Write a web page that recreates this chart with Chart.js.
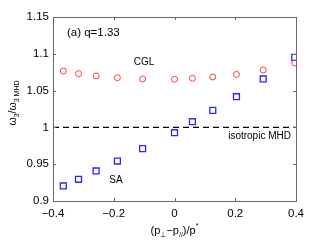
<!DOCTYPE html>
<html><head><meta charset="utf-8">
<script src="https://cdn.jsdelivr.net/npm/chart.js@4/dist/chart.umd.min.js"></script>
<style>html,body{margin:0;padding:0;background:#fff}#wrap{width:327px;height:243px}</style>
</head><body><div id="wrap"><canvas id="c" width="327" height="243"></canvas></div>
<script>
const anisotropy = [-0.366, -0.316, -0.258, -0.188, -0.105, 0.0, 0.059, 0.126, 0.204, 0.292, 0.396];
const cglRatio = [1.0766, 1.0730, 1.0700, 1.0675, 1.0658, 1.0654, 1.0667, 1.0685, 1.0720, 1.0780, 1.0875];
const saRatio = [0.9204, 0.9295, 0.9408, 0.9543, 0.9711, 0.9928, 1.0077, 1.0232, 1.0417, 1.0658, 1.0952];
const refX = [-0.4, 0.4];
const refY = [1, 1];
const xTicks = [-0.4, -0.2, 0, 0.2, 0.4];
const yTicks = [0.9, 0.95, 1, 1.05, 1.1, 1.15];
const notes = [
  {text: '(a) q=1.33', x: -0.354, y: 1.1284, size: 11.5, align: 'left'},
  {text: 'CGL', x: -0.1, y: 1.089, size: 10, align: 'center'},
  {text: 'SA', x: -0.193, y: 0.9285, size: 10, align: 'center'},
  {text: 'isotropic MHD', x: 0.28, y: 0.988, size: 10, align: 'center'}
];

const FONT = '"Liberation Sans", Arial, sans-serif';
const frameColor = '#666';

const decor = {
  id: 'decor',
  afterDraw(chart) {
    const ctx = chart.ctx, a = chart.chartArea;
    const xs = chart.scales.x, ys = chart.scales.y;
    ctx.save();
    ctx.strokeStyle = frameColor; ctx.lineWidth = 1;
    ctx.strokeRect(Math.round(a.left)+0.5, Math.round(a.top)+0.5, Math.round(a.right-a.left), Math.round(a.bottom-a.top));
    const tl = 3;
    ctx.beginPath();
    xTicks.forEach(v => {
      const px = Math.round(xs.getPixelForValue(v)) + 0.5;
      ctx.moveTo(px, a.bottom); ctx.lineTo(px, a.bottom - tl);
      ctx.moveTo(px, a.top); ctx.lineTo(px, a.top + tl);
    });
    yTicks.forEach(v => {
      const py = Math.round(ys.getPixelForValue(v)) + 0.5;
      ctx.moveTo(a.left, py); ctx.lineTo(a.left + tl, py);
      ctx.moveTo(a.right, py); ctx.lineTo(a.right - tl, py);
    });
    ctx.stroke();
    ctx.fillStyle = '#000';
    ctx.textBaseline = 'middle';
    notes.forEach(n => {
      ctx.font = n.size + 'px ' + FONT;
      ctx.textAlign = n.align;
      ctx.fillText(n.text, xs.getPixelForValue(n.x), ys.getPixelForValue(n.y));
    });
    const parts = (segs, startX, baseY) => {
      let x = startX;
      segs.forEach(s => {
        ctx.font = s.size + 'px ' + FONT;
        ctx.fillText(s.t, x, baseY + (s.dy || 0));
        x += ctx.measureText(s.t).width;
      });
      return x;
    };
    const measure = segs => segs.reduce((w, s) => { ctx.font = s.size + 'px ' + FONT; return w + ctx.measureText(s.t).width; }, 0);
    ctx.textAlign = 'left'; ctx.textBaseline = 'alphabetic';
    const xl = [
      {t: '(p', size: 11}, {t: '\u22a5', size: 7, dy: 3}, {t: '\u2212p', size: 11},
      {t: '//', size: 7, dy: 3}, {t: ')/p', size: 11}, {t: '*', size: 7, dy: -6}
    ];
    const wx = measure(xl);
    parts(xl, (a.left + a.right) / 2 - wx / 2, 234);
    const yl = [
      {t: '\u03c9', size: 10.5}, {t: '3', size: 7, dy: 3}, {t: '/\u03c9', size: 10.5}, {t: '3 MHD', size: 7, dy: 3}
    ];
    const wy = measure(yl);
    ctx.translate(16, 103);
    ctx.rotate(-Math.PI / 2);
    parts(yl, -wy / 2, 0);
    ctx.restore();
  }
};

new Chart(document.getElementById('c'), {
  type: 'scatter',
  data: {
    datasets: [
      {
        label: 'isotropic MHD', type: 'line',
        data: refX.map((x, i) => ({x, y: refY[i]})),
        borderColor: '#000', borderWidth: 1.2, borderDash: [6, 4],
        pointRadius: 0, fill: false, order: 3
      },
      {
        label: 'CGL',
        data: anisotropy.map((x, i) => ({x, y: cglRatio[i]})),
        pointStyle: 'circle', pointRadius: 3, borderWidth: 1,
        borderColor: 'rgb(255,60,60)', backgroundColor: 'rgba(0,0,0,0)', order: 1
      },
      {
        label: 'SA',
        data: anisotropy.map((x, i) => ({x, y: saRatio[i]})),
        pointStyle: 'rect', pointRadius: 4.2, borderWidth: 1.3,
        borderColor: 'rgb(40,40,255)', backgroundColor: 'rgba(0,0,0,0)', order: 2
      }
    ]
  },
  options: {
    responsive: false, animation: false,
    layout: {padding: {left: 0, right: 31, top: 17, bottom: 0}},
    plugins: {legend: {display: false}, tooltip: {enabled: false}},
    scales: {
      x: {
        type: 'linear', min: -0.4, max: 0.4,
        afterFit: s => { s.height = 42; },
        afterBuildTicks: s => { s.ticks = xTicks.map(v => ({value: v})); },
        grid: {display: false, drawTicks: false}, border: {display: false},
        ticks: {padding: 6, color: '#000', font: {family: FONT, size: 11.5},
          callback: v => (v < 0 ? '\u2212' : '') + Math.abs(v).toString()}
      },
      y: {
        type: 'linear', min: 0.9, max: 1.15,
        afterFit: s => { s.width = 53; },
        afterBuildTicks: s => { s.ticks = yTicks.map(v => ({value: v})); },
        grid: {display: false, drawTicks: false}, border: {display: false},
        ticks: {padding: 4, color: '#000', font: {family: FONT, size: 11.5},
          callback: v => Number(v.toFixed(2)).toString()}
      }
    }
  },
  plugins: [decor]
});
</script>
</body></html>
